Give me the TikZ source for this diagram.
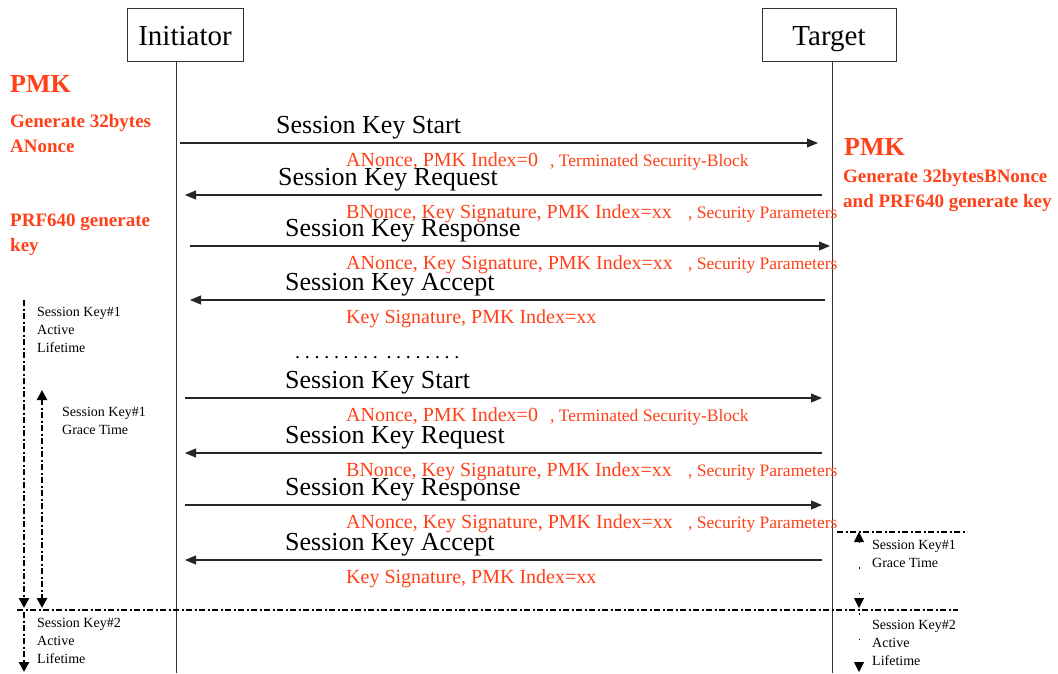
\documentclass[tikz,border=0pt]{standalone}
\usepackage{fontspec}
\setmainfont{Liberation Serif}
\usetikzlibrary{arrows.meta}
\definecolor{keyred}{RGB}{255,64,24}
\newcommand{\dotrun}[1]{\foreach \k in {1,...,#1}{.\kern4.7pt}}

\begin{document}
\begin{tikzpicture}[x=1pt, y=-1pt,
    party/.style={draw=black!80, line width=1pt, minimum width=116pt, minimum height=53pt, inner sep=0pt, text height=27pt, text depth=6pt, font=\fontsize{29}{32}\selectfont},
    life/.style={line width=1pt, black!80},
    msg/.style={line width=1.1pt, draw=black!85, -{Triangle[length=11pt, width=9pt]}},
    msgname/.style={anchor=base west, inner sep=0pt, font=\fontsize{26}{28}\selectfont},
    param/.style={anchor=base west, inner sep=0pt, text=keyred, font=\fontsize{20}{22}\selectfont},
    paramtail/.style={param, font=\fontsize{17.5}{20}\selectfont},
    note/.style={anchor=north west, inner sep=0pt, align=left, text=keyred, font=\bfseries\fontsize{19}{25}\selectfont},
    pmk/.style={anchor=base west, inner sep=0pt, text=keyred, font=\bfseries\fontsize{26}{28}\selectfont},
    keytime/.style={anchor=north west, inner sep=0pt, align=left, font=\fontsize{14}{18}\selectfont},
    keyline/.style={line width=2.8pt, dash pattern=on 6pt off 2.5pt on 2pt off 2.5pt},
    faint/.style={line width=1pt, dash pattern=on 1.5pt off 24pt},
    keytip/.style={-{Triangle[length=10pt, width=10pt]}},
    keytips/.style={{Triangle[length=10pt, width=10pt]}-{Triangle[length=10pt, width=10pt]}}]
  \useasboundingbox (0,0) rectangle (1058,673); % keep the page size.

  \node[party] (ini) at (185,34.5) {Initiator};
  \node[party, minimum width=134pt] (tgt) at (829,34.5) {Target};
  \coordinate (inibot) at (176,673);
  \coordinate (tgtbot) at (832,673);
  \draw[life] (ini.south -| inibot) -- (inibot);
  \draw[life] (tgt.south -| tgtbot) -- (tgtbot);

  % key material on both sides
  \node[pmk] (pmkini) at (10,92) {PMK};
  \node[note] (anonce) at (10,114) {Generate 32bytes\\ANonce};
  \node[note] (prfini) at (10,214) {PRF640 generate\\key};
  \node[pmk] (pmktgt) at (844,155) {PMK};
  \node[note] (bnonce) at (843,169) {Generate 32bytesBNonce\\and PRF640 generate key};

  % the four messages, twice
  \foreach \n/\y/\xa/\xb/\lx/\lab/\head/\tail/\tx in {
      1/143/180/818/276/Start/{ANonce, PMK Index=0}/{, Terminated Security-Block}/550,
      2/195/822/185/278/Request/{BNonce, Key Signature, PMK Index=xx}/{, Security Parameters}/688,
      3/246/190/830/285/Response/{ANonce, Key Signature, PMK Index=xx}/{, Security Parameters}/688,
      4/300/825/190/285/Accept/{Key Signature, PMK Index=xx}/{}/688,
      5/398/185/822/285/Start/{ANonce, PMK Index=0}/{, Terminated Security-Block}/550,
      6/453/822/185/285/Request/{BNonce, Key Signature, PMK Index=xx}/{, Security Parameters}/688,
      7/505/185/822/285/Response/{ANonce, Key Signature, PMK Index=xx}/{, Security Parameters}/688,
      8/560/822/185/285/Accept/{Key Signature, PMK Index=xx}/{}/688} {
    \coordinate (s\n) at (\xa,\y);
    \coordinate (e\n) at (\xb,\y);
    \draw[msg] (s\n) -- (e\n);
    \node[msgname] (m\n) at (\lx,\y-10) {Session Key \lab};
    \node[param] (p\n) at (346,\y+23) {\head};
    \node[paramtail] (q\n) at (\tx,\y+23) {\tail};
  }
  \node[param, text=black] (gap) at (295,358) {\dotrun{9}\kern4pt\dotrun{8}};

  % key lifetimes
  \coordinate (k1a) at (24,300);  \coordinate (k1b) at (24,608);
  \coordinate (k2a) at (24,612);  \coordinate (k2b) at (24,672);
  \coordinate (g1a) at (42,390);  \coordinate (g1b) at (42,608);
  \coordinate (cuta) at (17,610); \coordinate (cutb) at (958,610);
  \coordinate (rca) at (837,532); \coordinate (rcb) at (967,532);
  \coordinate (rga) at (859,532); \coordinate (rgb) at (859,608);
  \coordinate (rka) at (859,613); \coordinate (rkb) at (859,672);
  \draw[keyline, keytip] (k1a) -- (k1b);
  \draw[keyline, keytip] (k2a) -- (k2b);
  \draw[keyline, keytips] (g1a) -- (g1b);
  \draw[keyline] (cuta) -- (cutb);
  \draw[keyline] (rca) -- (rcb);
  \draw[faint, keytips] (rga) -- (rgb);
  \draw[faint, keytip] (rka) -- (rkb);

  \node[keytime] (life1) at (37,307.5) {Session Key\#1\\Active\\Lifetime};
  \node[keytime] (grace1) at (62,407.5) {Session Key\#1\\Grace Time};
  \node[keytime] (life2) at (37,618) {Session Key\#2\\Active\\Lifetime};
  \node[keytime] (grace1r) at (872,540) {Session Key\#1\\Grace Time};
  \node[keytime] (life2r) at (872,620) {Session Key\#2\\Active\\Lifetime};
\end{tikzpicture}
\end{document}
